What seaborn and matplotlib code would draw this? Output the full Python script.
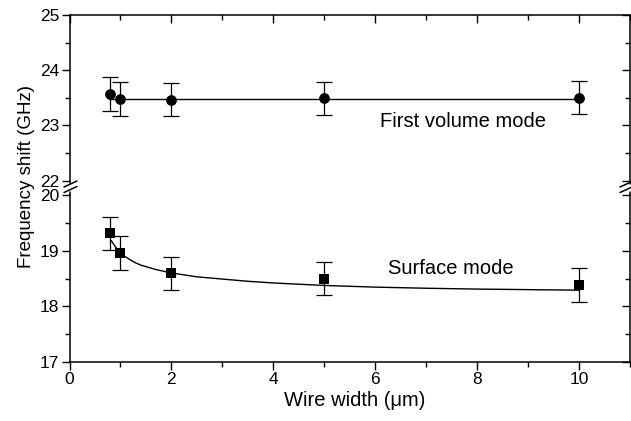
import numpy as np
import pandas as pd
import matplotlib
matplotlib.use("Agg")
import matplotlib.pyplot as plt
import seaborn as sns
from matplotlib.ticker import MultipleLocator
from matplotlib.lines import Line2D

# ---------------- data ----------------
width_um = [0.8, 1, 2, 5, 10]
volume_ghz = [23.57, 23.48, 23.47, 23.49, 23.50]
volume_err = [0.30, 0.30, 0.30, 0.30, 0.30]
surface_ghz = [19.31, 18.96, 18.59, 18.50, 18.38]
surface_err = [0.30, 0.30, 0.30, 0.30, 0.30]

volume_fit_x = [0.78, 10.0]
volume_fit_y = [23.48, 23.48]
surface_fit_x = [0.82, 0.9, 1.0, 1.1, 1.2, 1.3, 1.4, 1.55, 1.7, 1.85, 2.0, 2.25, 2.5, 3.0, 3.5, 4.0, 5.0, 6.0, 7.0, 8.0, 9.0, 10.0]
surface_fit_y = [19.18, 19.07, 18.96, 18.89, 18.83, 18.78, 18.74, 18.70, 18.66, 18.63, 18.60, 18.565, 18.53, 18.49, 18.45, 18.42, 18.375, 18.345, 18.325, 18.31, 18.30, 18.29]

upper_ticks = [22, 23, 24, 25]
lower_ticks = [17, 18, 19, 20]
x_ticks = [0, 2, 4, 6, 8, 10]

# ---------------- style ----------------
sns.set_style("ticks")
plt.rcParams['font.family'] = ['Liberation Sans', 'DejaVu Sans']
plt.rcParams['axes.linewidth'] = 1.1
for k in ['text.color', 'axes.labelcolor', 'xtick.color', 'ytick.color', 'axes.edgecolor']:
    plt.rcParams[k] = 'black'

W, H = 631, 421
fig = plt.figure(figsize=(W / 100, H / 100), dpi=100)
left, right = 69.5, 630.0
top_y0, top_y1 = 15.0, 180.7
bot_y0, bot_y1 = 195.0, 362.0

ax_top = fig.add_axes([left / W, 1 - top_y1 / H, (right - left) / W, (top_y1 - top_y0) / H])
ax_bot = fig.add_axes([left / W, 1 - bot_y1 / H, (right - left) / W, (bot_y1 - bot_y0) / H])

vol_df = pd.DataFrame({"x": width_um, "y": volume_ghz})
surf_df = pd.DataFrame({"x": width_um, "y": surface_ghz})

# fit lines
sns.lineplot(x=volume_fit_x, y=volume_fit_y, color='black', lw=1.0, ax=ax_top, zorder=2)
sns.lineplot(x=surface_fit_x, y=surface_fit_y, color='black', lw=1.0, ax=ax_bot, zorder=2)

# error bars
ax_top.errorbar(width_um, volume_ghz, yerr=volume_err, fmt='none', ecolor='black',
                elinewidth=0.9, capsize=6, capthick=0.9, zorder=2)
ax_bot.errorbar(width_um, surface_ghz, yerr=surface_err, fmt='none', ecolor='black',
                elinewidth=0.9, capsize=6, capthick=0.9, zorder=2)

# markers
sns.scatterplot(data=vol_df, x="x", y="y", marker='o', s=60, color='black',
                edgecolor='black', linewidth=0, ax=ax_top, zorder=3)
sns.scatterplot(data=surf_df, x="x", y="y", marker='s', s=48, color='black',
                edgecolor='black', linewidth=0, ax=ax_bot, zorder=3)

for ax in (ax_top, ax_bot):
    ax.set_xlim(0, 11)
    ax.set_xlabel('')
    ax.set_ylabel('')
    ax.xaxis.set_major_locator(MultipleLocator(2))
    ax.xaxis.set_minor_locator(MultipleLocator(1))
    ax.yaxis.set_minor_locator(MultipleLocator(0.5))
    for s in ax.spines.values():
        s.set_visible(True)
        s.set_linewidth(1.1)
        s.set_color('black')

ax_top.set_ylim(22, 25)
ax_top.set_yticks(upper_ticks)
ax_bot.set_ylim(17, 20)
ax_bot.set_yticks(lower_ticks)
ax_bot.set_xticks(x_ticks)

ax_top.spines['bottom'].set_visible(False)
ax_bot.spines['top'].set_visible(False)

ax_top.tick_params(axis='x', which='both', bottom=False, labelbottom=False,
                   top=True, labeltop=False, direction='in')
ax_bot.tick_params(axis='x', which='both', bottom=True, top=False, direction='out')
for ax in (ax_top, ax_bot):
    ax.tick_params(axis='y', which='both', left=True, right=False, direction='out')
    ax.tick_params(which='major', length=5.5, width=1.0, labelsize=12.5, pad=2, colors='black')
    ax.tick_params(which='minor', length=3.5, width=1.0, colors='black')
    # right-side inward ticks
    r = ax.twinx()
    r.set_ylim(ax.get_ylim())
    r.set_yticks(ax.get_yticks())
    r.yaxis.set_minor_locator(MultipleLocator(0.5))
    r.tick_params(axis='y', which='both', direction='in', labelright=False, right=True, colors='black')
    r.tick_params(which='major', length=5.5, width=1.0)
    r.tick_params(which='minor', length=3.5, width=1.0)
    for s in r.spines.values():
        s.set_visible(False)

ax_top.text(7.73, 23.08, "First volume mode", ha='center', va='center', fontsize=14.5, color='black')
ax_bot.text(7.49, 18.68, "Surface mode", ha='center', va='center', fontsize=14.5, color='black')

fig.text(355 / W, 1 - 400 / H, 'Wire width (μm)', ha='center', va='center', fontsize=14.5, color='black')
fig.text(27 / W, 1 - 177 / H, 'Frequency shift (GHz)', rotation=90,
         ha='center', va='center', fontsize=13.5, color='black')

# break marks
def fl(x0, y0, x1, y1):
    fig.add_artist(Line2D([x0 / W, x1 / W], [1 - y0 / H, 1 - y1 / H],
                          transform=fig.transFigure, color='black', lw=1.1))

fl(left, top_y1, left, 184)
fl(left, 191.5, left, bot_y0)
fl(64, 187, 77, 181)
fl(64, 192.5, 77, 186.5)
fl(right, top_y1, right, 184)
fl(right, 191.5, right, bot_y0)
fl(620, 187, 631, 182)
fl(620, 192.5, 631, 187.5)

fig.savefig('out.png', dpi=100)
